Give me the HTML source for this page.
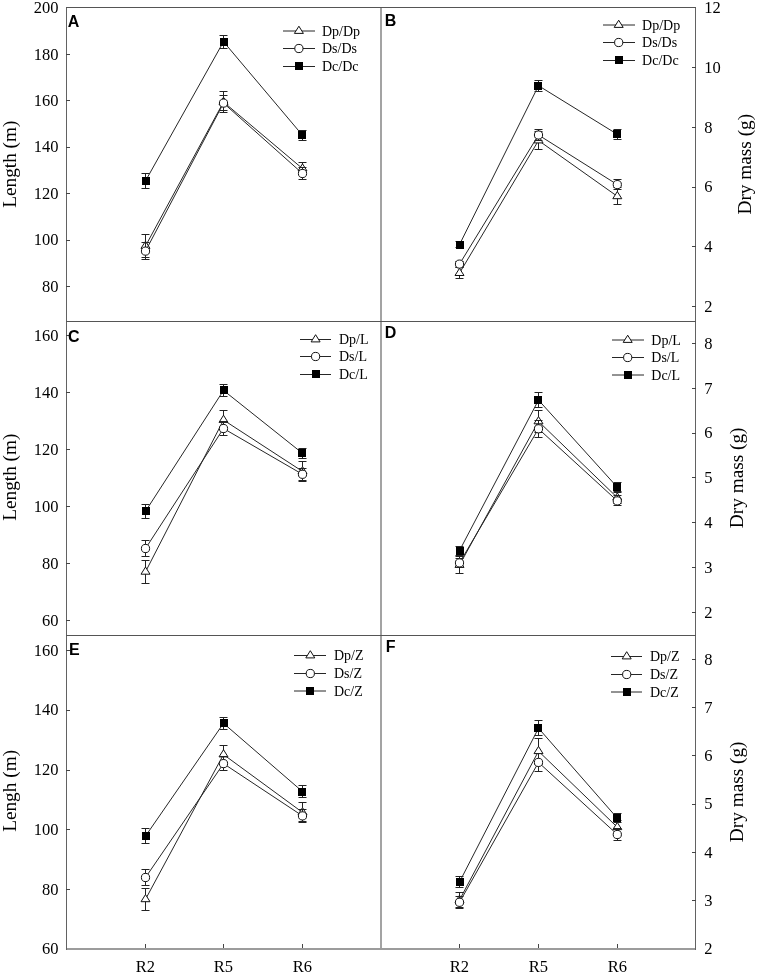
<!DOCTYPE html>
<html><head><meta charset="utf-8"><style>
html,body{margin:0;padding:0;background:#fff;overflow:hidden;}
svg{display:block;will-change:transform;}
</style></head><body>
<svg width="758" height="975" viewBox="0 0 758 975">
<rect width="758" height="975" fill="#fff"/>
<path d="M145.50,246.00 L223.50,102.00 L302.50,168.60" fill="none" stroke="#262626" stroke-width="1"/>
<path d="M145.5,234.5 V257.5 M141.5,234.5 H149.5 M141.5,257.5 H149.5 M223.5,91.5 V112.5 M219.5,91.5 H227.5 M219.5,112.5 H227.5 M302.5,162.5 V174.5 M298.5,162.5 H306.5 M298.5,174.5 H306.5" stroke="#222" stroke-width="1" fill="none"/>
<path d="M145.50,241.20 L150.00,248.40 L141.00,248.40 Z" fill="#fff" stroke="#111" stroke-width="1"/>
<path d="M223.50,97.20 L228.00,104.40 L219.00,104.40 Z" fill="#fff" stroke="#111" stroke-width="1"/>
<path d="M302.50,163.80 L307.00,171.00 L298.00,171.00 Z" fill="#fff" stroke="#111" stroke-width="1"/>
<path d="M145.50,251.10 L223.50,103.10 L302.50,173.50" fill="none" stroke="#262626" stroke-width="1"/>
<path d="M145.5,242.5 V259.5 M141.5,242.5 H149.5 M141.5,259.5 H149.5 M223.5,95.5 V110.5 M219.5,95.5 H227.5 M219.5,110.5 H227.5 M302.5,167.5 V179.5 M298.5,167.5 H306.5 M298.5,179.5 H306.5" stroke="#222" stroke-width="1" fill="none"/>
<circle cx="145.50" cy="251.10" r="4.1" fill="#fff" stroke="#111" stroke-width="1"/>
<circle cx="223.50" cy="103.10" r="4.1" fill="#fff" stroke="#111" stroke-width="1"/>
<circle cx="302.50" cy="173.50" r="4.1" fill="#fff" stroke="#111" stroke-width="1"/>
<path d="M145.50,180.90 L223.50,41.70 L302.50,135.30" fill="none" stroke="#262626" stroke-width="1"/>
<path d="M145.5,173.5 V188.5 M141.5,173.5 H149.5 M141.5,188.5 H149.5 M223.5,35.5 V48.5 M219.5,35.5 H227.5 M219.5,48.5 H227.5 M302.5,130.5 V140.5 M298.5,130.5 H306.5 M298.5,140.5 H306.5" stroke="#222" stroke-width="1" fill="none"/>
<rect x="142" y="177" width="8" height="8" fill="#000"/>
<rect x="220" y="38" width="8" height="8" fill="#000"/>
<rect x="298" y="131" width="8" height="8" fill="#000"/>
<path d="M459.50,273.10 L538.50,140.50 L617.30,196.30" fill="none" stroke="#262626" stroke-width="1"/>
<path d="M459.5,267.5 V278.5 M455.5,267.5 H463.5 M455.5,278.5 H463.5 M538.5,131.5 V149.5 M534.5,131.5 H542.5 M534.5,149.5 H542.5 M617.5,187.5 V204.5 M613.5,187.5 H621.5 M613.5,204.5 H621.5" stroke="#222" stroke-width="1" fill="none"/>
<path d="M459.50,268.30 L464.00,275.50 L455.00,275.50 Z" fill="#fff" stroke="#111" stroke-width="1"/>
<path d="M538.50,135.70 L543.00,142.90 L534.00,142.90 Z" fill="#fff" stroke="#111" stroke-width="1"/>
<path d="M617.30,191.50 L621.80,198.70 L612.80,198.70 Z" fill="#fff" stroke="#111" stroke-width="1"/>
<path d="M459.50,264.10 L538.50,135.00 L617.30,184.60" fill="none" stroke="#262626" stroke-width="1"/>
<path d="M459.5,261.5 V267.5 M455.5,261.5 H463.5 M455.5,267.5 H463.5 M538.5,129.5 V140.5 M534.5,129.5 H542.5 M534.5,140.5 H542.5 M617.5,179.5 V189.5 M613.5,179.5 H621.5 M613.5,189.5 H621.5" stroke="#222" stroke-width="1" fill="none"/>
<circle cx="459.50" cy="264.10" r="4.1" fill="#fff" stroke="#111" stroke-width="1"/>
<circle cx="538.50" cy="135.00" r="4.1" fill="#fff" stroke="#111" stroke-width="1"/>
<circle cx="617.30" cy="184.60" r="4.1" fill="#fff" stroke="#111" stroke-width="1"/>
<path d="M459.50,244.60 L538.50,85.70 L617.30,134.30" fill="none" stroke="#262626" stroke-width="1"/>
<path d="M459.5,241.5 V247.5 M455.5,241.5 H463.5 M455.5,247.5 H463.5 M538.5,80.5 V91.5 M534.5,80.5 H542.5 M534.5,91.5 H542.5 M617.5,129.5 V139.5 M613.5,129.5 H621.5 M613.5,139.5 H621.5" stroke="#222" stroke-width="1" fill="none"/>
<rect x="456" y="241" width="8" height="8" fill="#000"/>
<rect x="534" y="82" width="8" height="8" fill="#000"/>
<rect x="613" y="130" width="8" height="8" fill="#000"/>
<path d="M145.50,571.80 L223.50,420.00 L302.50,471.40" fill="none" stroke="#262626" stroke-width="1"/>
<path d="M145.5,560.5 V583.5 M141.5,560.5 H149.5 M141.5,583.5 H149.5 M223.5,410.5 V429.5 M219.5,410.5 H227.5 M219.5,429.5 H227.5 M302.5,461.5 V481.5 M298.5,461.5 H306.5 M298.5,481.5 H306.5" stroke="#222" stroke-width="1" fill="none"/>
<path d="M145.50,567.00 L150.00,574.20 L141.00,574.20 Z" fill="#fff" stroke="#111" stroke-width="1"/>
<path d="M223.50,415.20 L228.00,422.40 L219.00,422.40 Z" fill="#fff" stroke="#111" stroke-width="1"/>
<path d="M302.50,466.60 L307.00,473.80 L298.00,473.80 Z" fill="#fff" stroke="#111" stroke-width="1"/>
<path d="M145.50,548.50 L223.50,428.50 L302.50,474.30" fill="none" stroke="#262626" stroke-width="1"/>
<path d="M145.5,540.5 V556.5 M141.5,540.5 H149.5 M141.5,556.5 H149.5 M223.5,421.5 V435.5 M219.5,421.5 H227.5 M219.5,435.5 H227.5 M302.5,468.5 V480.5 M298.5,468.5 H306.5 M298.5,480.5 H306.5" stroke="#222" stroke-width="1" fill="none"/>
<circle cx="145.50" cy="548.50" r="4.1" fill="#fff" stroke="#111" stroke-width="1"/>
<circle cx="223.50" cy="428.50" r="4.1" fill="#fff" stroke="#111" stroke-width="1"/>
<circle cx="302.50" cy="474.30" r="4.1" fill="#fff" stroke="#111" stroke-width="1"/>
<path d="M145.50,511.30 L223.50,390.40 L302.50,453.30" fill="none" stroke="#262626" stroke-width="1"/>
<path d="M145.5,504.5 V518.5 M141.5,504.5 H149.5 M141.5,518.5 H149.5 M223.5,384.5 V396.5 M219.5,384.5 H227.5 M219.5,396.5 H227.5 M302.5,448.5 V458.5 M298.5,448.5 H306.5 M298.5,458.5 H306.5" stroke="#222" stroke-width="1" fill="none"/>
<rect x="142" y="507" width="8" height="8" fill="#000"/>
<rect x="220" y="386" width="8" height="8" fill="#000"/>
<rect x="298" y="449" width="8" height="8" fill="#000"/>
<path d="M459.50,565.00 L538.50,421.40 L617.30,497.60" fill="none" stroke="#262626" stroke-width="1"/>
<path d="M459.5,556.5 V573.5 M455.5,556.5 H463.5 M455.5,573.5 H463.5 M538.5,410.5 V432.5 M534.5,410.5 H542.5 M534.5,432.5 H542.5 M617.5,491.5 V503.5 M613.5,491.5 H621.5 M613.5,503.5 H621.5" stroke="#222" stroke-width="1" fill="none"/>
<path d="M459.50,560.20 L464.00,567.40 L455.00,567.40 Z" fill="#fff" stroke="#111" stroke-width="1"/>
<path d="M538.50,416.60 L543.00,423.80 L534.00,423.80 Z" fill="#fff" stroke="#111" stroke-width="1"/>
<path d="M617.30,492.80 L621.80,500.00 L612.80,500.00 Z" fill="#fff" stroke="#111" stroke-width="1"/>
<path d="M459.50,562.90 L538.50,428.80 L617.30,500.90" fill="none" stroke="#262626" stroke-width="1"/>
<path d="M459.5,558.5 V567.5 M455.5,558.5 H463.5 M455.5,567.5 H463.5 M538.5,420.5 V437.5 M534.5,420.5 H542.5 M534.5,437.5 H542.5 M617.5,495.5 V505.5 M613.5,495.5 H621.5 M613.5,505.5 H621.5" stroke="#222" stroke-width="1" fill="none"/>
<circle cx="459.50" cy="562.90" r="4.1" fill="#fff" stroke="#111" stroke-width="1"/>
<circle cx="538.50" cy="428.80" r="4.1" fill="#fff" stroke="#111" stroke-width="1"/>
<circle cx="617.30" cy="500.90" r="4.1" fill="#fff" stroke="#111" stroke-width="1"/>
<path d="M459.50,550.60 L538.50,400.10 L617.30,487.20" fill="none" stroke="#262626" stroke-width="1"/>
<path d="M459.5,546.5 V555.5 M455.5,546.5 H463.5 M455.5,555.5 H463.5 M538.5,392.5 V407.5 M534.5,392.5 H542.5 M534.5,407.5 H542.5 M617.5,482.5 V492.5 M613.5,482.5 H621.5 M613.5,492.5 H621.5" stroke="#222" stroke-width="1" fill="none"/>
<rect x="456" y="547" width="8" height="8" fill="#000"/>
<rect x="534" y="396" width="8" height="8" fill="#000"/>
<rect x="613" y="483" width="8" height="8" fill="#000"/>
<path d="M145.50,899.30 L223.50,754.50 L302.50,812.40" fill="none" stroke="#262626" stroke-width="1"/>
<path d="M145.5,888.5 V910.5 M141.5,888.5 H149.5 M141.5,910.5 H149.5 M223.5,745.5 V763.5 M219.5,745.5 H227.5 M219.5,763.5 H227.5 M302.5,802.5 V822.5 M298.5,802.5 H306.5 M298.5,822.5 H306.5" stroke="#222" stroke-width="1" fill="none"/>
<path d="M145.50,894.50 L150.00,901.70 L141.00,901.70 Z" fill="#fff" stroke="#111" stroke-width="1"/>
<path d="M223.50,749.70 L228.00,756.90 L219.00,756.90 Z" fill="#fff" stroke="#111" stroke-width="1"/>
<path d="M302.50,807.60 L307.00,814.80 L298.00,814.80 Z" fill="#fff" stroke="#111" stroke-width="1"/>
<path d="M145.50,877.50 L223.50,763.60 L302.50,815.90" fill="none" stroke="#262626" stroke-width="1"/>
<path d="M145.5,869.5 V885.5 M141.5,869.5 H149.5 M141.5,885.5 H149.5 M223.5,756.5 V770.5 M219.5,756.5 H227.5 M219.5,770.5 H227.5 M302.5,809.5 V821.5 M298.5,809.5 H306.5 M298.5,821.5 H306.5" stroke="#222" stroke-width="1" fill="none"/>
<circle cx="145.50" cy="877.50" r="4.1" fill="#fff" stroke="#111" stroke-width="1"/>
<circle cx="223.50" cy="763.60" r="4.1" fill="#fff" stroke="#111" stroke-width="1"/>
<circle cx="302.50" cy="815.90" r="4.1" fill="#fff" stroke="#111" stroke-width="1"/>
<path d="M145.50,836.10 L223.50,723.30 L302.50,791.60" fill="none" stroke="#262626" stroke-width="1"/>
<path d="M145.5,828.5 V843.5 M141.5,828.5 H149.5 M141.5,843.5 H149.5 M223.5,717.5 V729.5 M219.5,717.5 H227.5 M219.5,729.5 H227.5 M302.5,785.5 V797.5 M298.5,785.5 H306.5 M298.5,797.5 H306.5" stroke="#222" stroke-width="1" fill="none"/>
<rect x="142" y="832" width="8" height="8" fill="#000"/>
<rect x="220" y="719" width="8" height="8" fill="#000"/>
<rect x="298" y="788" width="8" height="8" fill="#000"/>
<path d="M459.50,900.00 L538.50,751.20 L617.30,827.20" fill="none" stroke="#262626" stroke-width="1"/>
<path d="M459.5,892.5 V907.5 M455.5,892.5 H463.5 M455.5,907.5 H463.5 M538.5,738.5 V764.5 M534.5,738.5 H542.5 M534.5,764.5 H542.5 M617.5,820.5 V834.5 M613.5,820.5 H621.5 M613.5,834.5 H621.5" stroke="#222" stroke-width="1" fill="none"/>
<path d="M459.50,895.20 L464.00,902.40 L455.00,902.40 Z" fill="#fff" stroke="#111" stroke-width="1"/>
<path d="M538.50,746.40 L543.00,753.60 L534.00,753.60 Z" fill="#fff" stroke="#111" stroke-width="1"/>
<path d="M617.30,822.40 L621.80,829.60 L612.80,829.60 Z" fill="#fff" stroke="#111" stroke-width="1"/>
<path d="M459.50,902.30 L538.50,762.40 L617.30,834.50" fill="none" stroke="#262626" stroke-width="1"/>
<path d="M459.5,896.5 V908.5 M455.5,896.5 H463.5 M455.5,908.5 H463.5 M538.5,753.5 V771.5 M534.5,753.5 H542.5 M534.5,771.5 H542.5 M617.5,828.5 V840.5 M613.5,828.5 H621.5 M613.5,840.5 H621.5" stroke="#222" stroke-width="1" fill="none"/>
<circle cx="459.50" cy="902.30" r="4.1" fill="#fff" stroke="#111" stroke-width="1"/>
<circle cx="538.50" cy="762.40" r="4.1" fill="#fff" stroke="#111" stroke-width="1"/>
<circle cx="617.30" cy="834.50" r="4.1" fill="#fff" stroke="#111" stroke-width="1"/>
<path d="M459.50,882.00 L538.50,728.20 L617.30,818.20" fill="none" stroke="#262626" stroke-width="1"/>
<path d="M459.5,876.5 V887.5 M455.5,876.5 H463.5 M455.5,887.5 H463.5 M538.5,720.5 V735.5 M534.5,720.5 H542.5 M534.5,735.5 H542.5 M617.5,813.5 V822.5 M613.5,813.5 H621.5 M613.5,822.5 H621.5" stroke="#222" stroke-width="1" fill="none"/>
<rect x="456" y="878" width="8" height="8" fill="#000"/>
<rect x="534" y="724" width="8" height="8" fill="#000"/>
<rect x="613" y="814" width="8" height="8" fill="#000"/>
<path d="M381,8 V948" stroke="#a3a3a3" stroke-width="2" fill="none"/>
<path d="M66,949 H696" stroke="#9c9c9c" stroke-width="2" fill="none"/>
<path d="M66.5,7 V950 M695.5,7 V950" stroke="#626262" stroke-width="1" fill="none"/>
<path d="M66,7.5 H696 M66,321.5 H696 M66,635.5 H696" stroke="#555" stroke-width="1" fill="none"/>
<path d="M66.5,948 V950" stroke="#626262" stroke-width="1" fill="none"/>
<path d="M66,54.5 H70 M66,100.5 H70 M66,147.5 H70 M66,193.5 H70 M66,240.5 H70 M66,286.5 H70 M66,335.5 H70 M66,392.5 H70 M66,449.5 H70 M66,506.5 H70 M66,563.5 H70 M66,620.5 H70 M66,650.5 H70 M66,710.5 H70 M66,770.5 H70 M66,829.5 H70 M66,889.5 H70 M692,67.5 H696 M692,127.5 H696 M692,187.5 H696 M692,246.5 H696 M692,306.5 H696 M692,343.5 H696 M692,388.5 H696 M692,433.5 H696 M692,477.5 H696 M692,522.5 H696 M692,567.5 H696 M692,612.5 H696 M692,659.5 H696 M692,707.5 H696 M692,755.5 H696 M692,804.5 H696 M692,852.5 H696 M692,900.5 H696 M145.5,948 V944 M223.5,948 V944 M302.5,948 V944 M459.5,948 V944 M538.5,948 V944 M617.5,948 V944" stroke="#444" stroke-width="1" fill="none"/>
<text x="58.40" y="13.20" font-family='"Liberation Serif", serif' font-size="16.5" font-weight="normal" text-anchor="end" fill="#000">200</text>
<text x="58.40" y="59.60" font-family='"Liberation Serif", serif' font-size="16.5" font-weight="normal" text-anchor="end" fill="#000">180</text>
<text x="58.40" y="106.00" font-family='"Liberation Serif", serif' font-size="16.5" font-weight="normal" text-anchor="end" fill="#000">160</text>
<text x="58.40" y="152.40" font-family='"Liberation Serif", serif' font-size="16.5" font-weight="normal" text-anchor="end" fill="#000">140</text>
<text x="58.40" y="198.80" font-family='"Liberation Serif", serif' font-size="16.5" font-weight="normal" text-anchor="end" fill="#000">120</text>
<text x="58.40" y="245.20" font-family='"Liberation Serif", serif' font-size="16.5" font-weight="normal" text-anchor="end" fill="#000">100</text>
<text x="58.40" y="291.60" font-family='"Liberation Serif", serif' font-size="16.5" font-weight="normal" text-anchor="end" fill="#000">80</text>
<text x="58.40" y="340.60" font-family='"Liberation Serif", serif' font-size="16.5" font-weight="normal" text-anchor="end" fill="#000">160</text>
<text x="58.40" y="397.60" font-family='"Liberation Serif", serif' font-size="16.5" font-weight="normal" text-anchor="end" fill="#000">140</text>
<text x="58.40" y="454.60" font-family='"Liberation Serif", serif' font-size="16.5" font-weight="normal" text-anchor="end" fill="#000">120</text>
<text x="58.40" y="511.60" font-family='"Liberation Serif", serif' font-size="16.5" font-weight="normal" text-anchor="end" fill="#000">100</text>
<text x="58.40" y="568.60" font-family='"Liberation Serif", serif' font-size="16.5" font-weight="normal" text-anchor="end" fill="#000">80</text>
<text x="58.40" y="625.60" font-family='"Liberation Serif", serif' font-size="16.5" font-weight="normal" text-anchor="end" fill="#000">60</text>
<text x="58.40" y="655.60" font-family='"Liberation Serif", serif' font-size="16.5" font-weight="normal" text-anchor="end" fill="#000">160</text>
<text x="58.40" y="715.35" font-family='"Liberation Serif", serif' font-size="16.5" font-weight="normal" text-anchor="end" fill="#000">140</text>
<text x="58.40" y="775.10" font-family='"Liberation Serif", serif' font-size="16.5" font-weight="normal" text-anchor="end" fill="#000">120</text>
<text x="58.40" y="834.85" font-family='"Liberation Serif", serif' font-size="16.5" font-weight="normal" text-anchor="end" fill="#000">100</text>
<text x="58.40" y="894.60" font-family='"Liberation Serif", serif' font-size="16.5" font-weight="normal" text-anchor="end" fill="#000">80</text>
<text x="58.40" y="954.35" font-family='"Liberation Serif", serif' font-size="16.5" font-weight="normal" text-anchor="end" fill="#000">60</text>
<text x="704.20" y="13.05" font-family='"Liberation Serif", serif' font-size="16.5" font-weight="normal" text-anchor="start" fill="#000">12</text>
<text x="704.20" y="72.80" font-family='"Liberation Serif", serif' font-size="16.5" font-weight="normal" text-anchor="start" fill="#000">10</text>
<text x="704.20" y="132.55" font-family='"Liberation Serif", serif' font-size="16.5" font-weight="normal" text-anchor="start" fill="#000">8</text>
<text x="704.20" y="192.30" font-family='"Liberation Serif", serif' font-size="16.5" font-weight="normal" text-anchor="start" fill="#000">6</text>
<text x="704.20" y="252.05" font-family='"Liberation Serif", serif' font-size="16.5" font-weight="normal" text-anchor="start" fill="#000">4</text>
<text x="704.20" y="311.80" font-family='"Liberation Serif", serif' font-size="16.5" font-weight="normal" text-anchor="start" fill="#000">2</text>
<text x="704.20" y="348.80" font-family='"Liberation Serif", serif' font-size="16.5" font-weight="normal" text-anchor="start" fill="#000">8</text>
<text x="704.20" y="393.63" font-family='"Liberation Serif", serif' font-size="16.5" font-weight="normal" text-anchor="start" fill="#000">7</text>
<text x="704.20" y="438.46" font-family='"Liberation Serif", serif' font-size="16.5" font-weight="normal" text-anchor="start" fill="#000">6</text>
<text x="704.20" y="483.29" font-family='"Liberation Serif", serif' font-size="16.5" font-weight="normal" text-anchor="start" fill="#000">5</text>
<text x="704.20" y="528.12" font-family='"Liberation Serif", serif' font-size="16.5" font-weight="normal" text-anchor="start" fill="#000">4</text>
<text x="704.20" y="572.95" font-family='"Liberation Serif", serif' font-size="16.5" font-weight="normal" text-anchor="start" fill="#000">3</text>
<text x="704.20" y="617.78" font-family='"Liberation Serif", serif' font-size="16.5" font-weight="normal" text-anchor="start" fill="#000">2</text>
<text x="704.20" y="664.80" font-family='"Liberation Serif", serif' font-size="16.5" font-weight="normal" text-anchor="start" fill="#000">8</text>
<text x="704.20" y="713.00" font-family='"Liberation Serif", serif' font-size="16.5" font-weight="normal" text-anchor="start" fill="#000">7</text>
<text x="704.20" y="761.20" font-family='"Liberation Serif", serif' font-size="16.5" font-weight="normal" text-anchor="start" fill="#000">6</text>
<text x="704.20" y="809.40" font-family='"Liberation Serif", serif' font-size="16.5" font-weight="normal" text-anchor="start" fill="#000">5</text>
<text x="704.20" y="857.60" font-family='"Liberation Serif", serif' font-size="16.5" font-weight="normal" text-anchor="start" fill="#000">4</text>
<text x="704.20" y="905.80" font-family='"Liberation Serif", serif' font-size="16.5" font-weight="normal" text-anchor="start" fill="#000">3</text>
<text x="704.20" y="954.00" font-family='"Liberation Serif", serif' font-size="16.5" font-weight="normal" text-anchor="start" fill="#000">2</text>
<text x="145.50" y="972.30" font-family='"Liberation Serif", serif' font-size="16.5" font-weight="normal" text-anchor="middle" fill="#000">R2</text>
<text x="223.50" y="972.30" font-family='"Liberation Serif", serif' font-size="16.5" font-weight="normal" text-anchor="middle" fill="#000">R5</text>
<text x="302.50" y="972.30" font-family='"Liberation Serif", serif' font-size="16.5" font-weight="normal" text-anchor="middle" fill="#000">R6</text>
<text x="459.50" y="972.30" font-family='"Liberation Serif", serif' font-size="16.5" font-weight="normal" text-anchor="middle" fill="#000">R2</text>
<text x="538.50" y="972.30" font-family='"Liberation Serif", serif' font-size="16.5" font-weight="normal" text-anchor="middle" fill="#000">R5</text>
<text x="617.30" y="972.30" font-family='"Liberation Serif", serif' font-size="16.5" font-weight="normal" text-anchor="middle" fill="#000">R6</text>
<text x="67.80" y="27.30" font-family='"Liberation Sans", sans-serif' font-size="16" font-weight="bold" text-anchor="start" fill="#000">A</text>
<text x="384.70" y="25.70" font-family='"Liberation Sans", sans-serif' font-size="16" font-weight="bold" text-anchor="start" fill="#000">B</text>
<text x="68.00" y="341.80" font-family='"Liberation Sans", sans-serif' font-size="16" font-weight="bold" text-anchor="start" fill="#000">C</text>
<text x="384.80" y="337.70" font-family='"Liberation Sans", sans-serif' font-size="16" font-weight="bold" text-anchor="start" fill="#000">D</text>
<text x="69.00" y="654.50" font-family='"Liberation Sans", sans-serif' font-size="16" font-weight="bold" text-anchor="start" fill="#000">E</text>
<text x="385.80" y="651.80" font-family='"Liberation Sans", sans-serif' font-size="16" font-weight="bold" text-anchor="start" fill="#000">F</text>
<text transform="translate(16.20,164.20) rotate(-90)" font-family='"Liberation Serif", serif' font-size="19.3" text-anchor="middle" fill="#000">Length (m)</text>
<text transform="translate(16.00,477.20) rotate(-90)" font-family='"Liberation Serif", serif' font-size="19.3" text-anchor="middle" fill="#000">Length (m)</text>
<text transform="translate(16.00,790.90) rotate(-90)" font-family='"Liberation Serif", serif' font-size="19.3" text-anchor="middle" fill="#000">Lengh (m)</text>
<text transform="translate(750.70,164.20) rotate(-90)" font-family='"Liberation Serif", serif' font-size="19.3" text-anchor="middle" fill="#000">Dry mass (g)</text>
<text transform="translate(742.80,477.80) rotate(-90)" font-family='"Liberation Serif", serif' font-size="19.3" text-anchor="middle" fill="#000">Dry mass (g)</text>
<text transform="translate(742.80,791.80) rotate(-90)" font-family='"Liberation Serif", serif' font-size="19.3" text-anchor="middle" fill="#000">Dry mass (g)</text>
<path d="M283.00,31.00 H315.00" stroke="#262626" stroke-width="1"/>
<path d="M298.90,26.20 L303.40,33.40 L294.40,33.40 Z" fill="#fff" stroke="#111" stroke-width="1"/>
<text x="322.00" y="35.90" font-family='"Liberation Serif", serif' font-size="14" font-weight="normal" text-anchor="start" fill="#000">Dp/Dp</text>
<path d="M283.00,48.50 H315.00" stroke="#262626" stroke-width="1"/>
<circle cx="298.90" cy="48.50" r="4.1" fill="#fff" stroke="#111" stroke-width="1"/>
<text x="322.00" y="53.40" font-family='"Liberation Serif", serif' font-size="14" font-weight="normal" text-anchor="start" fill="#000">Ds/Ds</text>
<path d="M283.00,66.50 H315.00" stroke="#262626" stroke-width="1"/>
<rect x="295" y="62" width="8" height="8" fill="#000"/>
<text x="322.00" y="71.40" font-family='"Liberation Serif", serif' font-size="14" font-weight="normal" text-anchor="start" fill="#000">Dc/Dc</text>
<path d="M603.00,25.00 H635.00" stroke="#262626" stroke-width="1"/>
<path d="M618.70,20.20 L623.20,27.40 L614.20,27.40 Z" fill="#fff" stroke="#111" stroke-width="1"/>
<text x="642.10" y="29.90" font-family='"Liberation Serif", serif' font-size="14" font-weight="normal" text-anchor="start" fill="#000">Dp/Dp</text>
<path d="M603.00,42.50 H635.00" stroke="#262626" stroke-width="1"/>
<circle cx="618.70" cy="42.50" r="4.1" fill="#fff" stroke="#111" stroke-width="1"/>
<text x="642.10" y="47.40" font-family='"Liberation Serif", serif' font-size="14" font-weight="normal" text-anchor="start" fill="#000">Ds/Ds</text>
<path d="M603.00,60.50 H635.00" stroke="#262626" stroke-width="1"/>
<rect x="615" y="56" width="8" height="8" fill="#000"/>
<text x="642.10" y="65.40" font-family='"Liberation Serif", serif' font-size="14" font-weight="normal" text-anchor="start" fill="#000">Dc/Dc</text>
<path d="M300.00,339.50 H331.00" stroke="#262626" stroke-width="1"/>
<path d="M315.60,334.70 L320.10,341.90 L311.10,341.90 Z" fill="#fff" stroke="#111" stroke-width="1"/>
<text x="339.00" y="344.40" font-family='"Liberation Serif", serif' font-size="14" font-weight="normal" text-anchor="start" fill="#000">Dp/L</text>
<path d="M300.00,356.50 H331.00" stroke="#262626" stroke-width="1"/>
<circle cx="315.60" cy="356.50" r="4.1" fill="#fff" stroke="#111" stroke-width="1"/>
<text x="339.00" y="361.40" font-family='"Liberation Serif", serif' font-size="14" font-weight="normal" text-anchor="start" fill="#000">Ds/L</text>
<path d="M300.00,374.50 H331.00" stroke="#262626" stroke-width="1"/>
<rect x="312" y="370" width="8" height="8" fill="#000"/>
<text x="339.00" y="379.40" font-family='"Liberation Serif", serif' font-size="14" font-weight="normal" text-anchor="start" fill="#000">Dc/L</text>
<path d="M612.00,340.00 H644.00" stroke="#262626" stroke-width="1"/>
<path d="M627.70,335.20 L632.20,342.40 L623.20,342.40 Z" fill="#fff" stroke="#111" stroke-width="1"/>
<text x="651.30" y="344.90" font-family='"Liberation Serif", serif' font-size="14" font-weight="normal" text-anchor="start" fill="#000">Dp/L</text>
<path d="M612.00,357.50 H644.00" stroke="#262626" stroke-width="1"/>
<circle cx="627.70" cy="357.50" r="4.1" fill="#fff" stroke="#111" stroke-width="1"/>
<text x="651.30" y="362.40" font-family='"Liberation Serif", serif' font-size="14" font-weight="normal" text-anchor="start" fill="#000">Ds/L</text>
<path d="M612.00,375.00 H644.00" stroke="#262626" stroke-width="1"/>
<rect x="624" y="371" width="8" height="8" fill="#000"/>
<text x="651.30" y="379.90" font-family='"Liberation Serif", serif' font-size="14" font-weight="normal" text-anchor="start" fill="#000">Dc/L</text>
<path d="M294.00,655.50 H326.00" stroke="#262626" stroke-width="1"/>
<path d="M310.30,650.70 L314.80,657.90 L305.80,657.90 Z" fill="#fff" stroke="#111" stroke-width="1"/>
<text x="334.00" y="660.40" font-family='"Liberation Serif", serif' font-size="14" font-weight="normal" text-anchor="start" fill="#000">Dp/Z</text>
<path d="M294.00,673.50 H326.00" stroke="#262626" stroke-width="1"/>
<circle cx="310.30" cy="673.50" r="4.1" fill="#fff" stroke="#111" stroke-width="1"/>
<text x="334.00" y="678.40" font-family='"Liberation Serif", serif' font-size="14" font-weight="normal" text-anchor="start" fill="#000">Ds/Z</text>
<path d="M294.00,691.00 H326.00" stroke="#262626" stroke-width="1"/>
<rect x="306" y="687" width="8" height="8" fill="#000"/>
<text x="334.00" y="695.90" font-family='"Liberation Serif", serif' font-size="14" font-weight="normal" text-anchor="start" fill="#000">Dc/Z</text>
<path d="M611.00,656.50 H642.00" stroke="#262626" stroke-width="1"/>
<path d="M626.70,651.70 L631.20,658.90 L622.20,658.90 Z" fill="#fff" stroke="#111" stroke-width="1"/>
<text x="650.00" y="661.40" font-family='"Liberation Serif", serif' font-size="14" font-weight="normal" text-anchor="start" fill="#000">Dp/Z</text>
<path d="M611.00,674.50 H642.00" stroke="#262626" stroke-width="1"/>
<circle cx="626.70" cy="674.50" r="4.1" fill="#fff" stroke="#111" stroke-width="1"/>
<text x="650.00" y="679.40" font-family='"Liberation Serif", serif' font-size="14" font-weight="normal" text-anchor="start" fill="#000">Ds/Z</text>
<path d="M611.00,692.00 H642.00" stroke="#262626" stroke-width="1"/>
<rect x="623" y="688" width="8" height="8" fill="#000"/>
<text x="650.00" y="696.90" font-family='"Liberation Serif", serif' font-size="14" font-weight="normal" text-anchor="start" fill="#000">Dc/Z</text>
</svg>
</body></html>
